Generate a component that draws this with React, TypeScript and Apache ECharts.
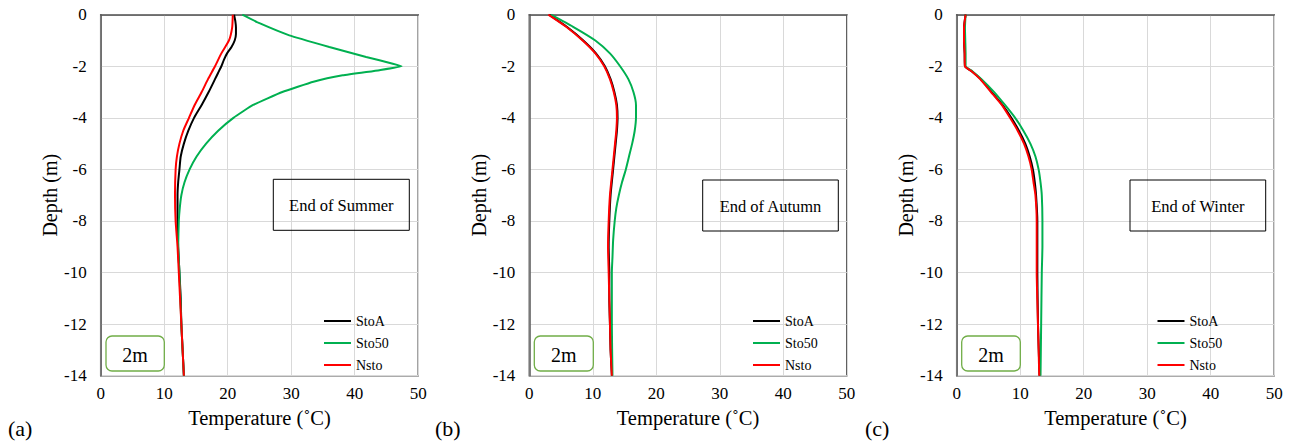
import React, { useEffect, useRef } from "react";
import * as echarts from "echarts";

// [temperature °C, depth m]
const summerStoA = [[21.0,0],[21.2,-0.25],[21.3,-0.5],[21.3,-0.75],[21.1,-1],[20.6,-1.25],[19.9,-1.5],[19.4,-1.75],[19.0,-2],[18.5,-2.25],[18.0,-2.5],[17.0,-3],[15.9,-3.5],[14.7,-4],[13.8,-4.5],[13.1,-5],[12.6,-5.5],[12.4,-6],[12.2,-6.5],[12.1,-7],[12.1,-8],[12.2,-9],[12.4,-10],[12.6,-11],[12.7,-12],[12.9,-13],[13.1,-14]];
const summerSto50 = [[22.3,0],[25.0,-0.33],[29.7,-0.8],[36.0,-1.25],[41.8,-1.64],[46.0,-1.9],[47.4,-2],[43.9,-2.15],[38.1,-2.35],[33.5,-2.6],[28.6,-3],[24.0,-3.5],[20.9,-4],[18.5,-4.5],[16.6,-5],[15.1,-5.5],[14.0,-6],[13.2,-6.5],[12.7,-7],[12.45,-7.5],[12.3,-8],[12.2,-9],[12.4,-10],[12.7,-12],[13.1,-14]];
const summerNsto = [[20.8,0],[20.7,-0.5],[20.2,-1],[19.0,-1.5],[18.0,-2],[16.9,-2.5],[15.9,-3],[14.8,-3.5],[13.9,-4],[13.0,-4.5],[12.4,-5],[12.0,-5.5],[11.8,-6],[11.7,-7],[11.8,-8],[12.1,-9],[12.3,-10],[12.5,-11],[12.7,-12],[12.9,-13],[13.1,-14]];

const autumnStoA = [[3.1,0],[5.9,-0.47],[8.5,-1],[10.5,-1.5],[11.9,-2],[12.8,-2.5],[13.4,-3],[13.8,-3.5],[13.9,-4],[13.8,-4.5],[13.6,-5],[13.2,-6],[12.8,-7],[12.6,-8],[12.5,-9],[12.6,-10],[12.6,-11],[12.7,-12],[12.8,-13],[13.0,-14]];
const autumnSto50 = [[3.4,0],[6.9,-0.47],[10.4,-1],[12.7,-1.5],[14.3,-2],[15.6,-2.5],[16.4,-3],[16.8,-3.5],[16.8,-4],[16.6,-4.5],[16.2,-5],[15.7,-5.5],[15.2,-6],[14.6,-6.5],[14.1,-7],[13.7,-7.5],[13.45,-8],[13.2,-8.75],[13.1,-9.4],[13.0,-10],[13.0,-11],[13.0,-12],[13.1,-14]];
const autumnNsto = [[3.0,0],[5.8,-0.47],[8.4,-1],[10.4,-1.5],[11.8,-2],[12.7,-2.5],[13.3,-3],[13.7,-3.5],[13.8,-4],[13.7,-4.5],[13.5,-5],[13.1,-6],[12.7,-7],[12.5,-8],[12.4,-9],[12.5,-10],[12.6,-11],[12.7,-12],[12.8,-13],[13.0,-14]];

const winterStoA = [[1.4,0],[1.15,-0.5],[1.15,-1],[1.25,-1.5],[1.3,-2],[2.4,-2.2],[3.8,-2.5],[5.5,-3],[7.2,-3.5],[8.6,-4],[9.8,-4.5],[10.8,-5],[11.5,-5.5],[12.0,-6],[12.3,-6.5],[12.5,-7],[12.7,-8],[12.7,-9],[12.7,-10],[12.8,-12],[13.05,-14]];
const winterSto50 = [[1.4,0],[1.3,-0.5],[1.35,-1],[1.4,-1.5],[1.4,-2],[2.5,-2.2],[3.9,-2.5],[5.9,-3],[7.6,-3.5],[9.2,-4],[10.5,-4.5],[11.6,-5],[12.4,-5.5],[12.9,-6],[13.2,-6.5],[13.4,-7],[13.5,-8],[13.5,-9],[13.4,-10],[13.3,-12],[13.2,-14]];
const winterNsto = [[1.4,0],[1.15,-0.5],[1.15,-1],[1.25,-1.5],[1.3,-2],[2.4,-2.2],[3.7,-2.5],[5.4,-3],[7.1,-3.5],[8.4,-4],[9.6,-4.5],[10.6,-5],[11.3,-5.5],[11.8,-6],[12.1,-6.5],[12.4,-7],[12.6,-8],[12.6,-9],[12.6,-10],[12.8,-12],[13.0,-14]];

const seriesNames = ["StoA", "Sto50", "Nsto"];
const seriesColors = ["#000000", "#00B050", "#FF0000"];
const seasonLabels = ["End of Summer", "End of Autumn", "End of Winter"];
const panelTags = ["(a)", "(b)", "(c)"];
const sizeLabel = "2m";
const xName = "Temperature (˚C)";
const yName = "Depth (m)";

const FONT = "Liberation Serif";

const layouts = [
  { left: 100.7, legendLeft: 323, season: [273.3, 179.3, 136, 51], mBox: [106, 336, 58.3, 35], tagX: 8, smooth: [0.2, 0.12, 0.2] },
  { left: 529.3, legendLeft: 752, season: [702.7, 180, 135.6, 51], mBox: [534.3, 336, 59, 35], tagX: 435, smooth: [0.2, 0.2, 0.2] },
  { left: 956.7, legendLeft: 1156.5, season: [1130, 180, 135.7, 51], mBox: [961.7, 336, 58.6, 35], tagX: 865, smooth: [0.15, 0.15, 0.15] },
];
const panelData = [
  [summerStoA, summerSto50, summerNsto],
  [autumnStoA, autumnSto50, autumnNsto],
  [winterStoA, winterSto50, winterNsto],
];

export default function App() {
  const ref = useRef<HTMLDivElement>(null);
  useEffect(() => {
    document.body.style.margin = "0";
    const chart = echarts.init(ref.current!, null, { renderer: "svg" });
    const TOP = 14.7, H = 361, W = 317.5;
    const grid = layouts.map((l) => ({
      left: l.left, top: TOP, width: W, height: H, show: true,
      borderColor: "#595959", borderWidth: 1.5, backgroundColor: "transparent",
    }));
    const xAxis = layouts.map((_, i) => ({
      gridIndex: i, type: "value", min: 0, max: 50, interval: 10,
      axisLine: { show: true, lineStyle: { color: "#595959", width: 1.5 } },
      axisTick: { show: false },
      axisLabel: { color: "#000", fontFamily: FONT, fontSize: 17, margin: 9 },
      splitLine: { show: true, lineStyle: { color: "#d9d9d9", width: 1 } },
      name: xName, nameLocation: "middle", nameGap: 32,
      nameTextStyle: { fontFamily: FONT, fontSize: 20.5, color: "#000" },
    }));
    const yAxis = layouts.map((_, i) => ({
      gridIndex: i, type: "value", min: -14, max: 0, interval: 2,
      axisLine: { show: true, lineStyle: { color: "#595959", width: 1.5 } },
      axisTick: { show: false },
      axisLabel: { color: "#000", fontFamily: FONT, fontSize: 17, margin: 14 },
      splitLine: { show: true, lineStyle: { color: "#d9d9d9", width: 1 } },
      name: yName, nameLocation: "middle", nameGap: 32, nameRotate: 90,
      nameTextStyle: { fontFamily: FONT, fontSize: 20, color: "#000" },
    }));
    const series: any[] = [];
    panelData.forEach((set, i) => {
      set.forEach((data, k) => {
        series.push({
          type: "line", name: seriesNames[k], xAxisIndex: i, yAxisIndex: i,
          data, symbol: "none", smooth: layouts[i].smooth[k],
          color: seriesColors[k],
          lineStyle: { color: seriesColors[k], width: 2 },
          itemStyle: { color: seriesColors[k] },
        });
      });
    });
    const legend = layouts.map((l) => ({
      data: seriesNames, orient: "vertical", left: l.legendLeft, top: 314,
      itemWidth: 27, itemHeight: 14, itemGap: 8, padding: 0, selectedMode: false,
      itemStyle: { opacity: 0 },
      textStyle: { fontFamily: FONT, fontSize: 14, color: "#000" },
    }));
    const graphic: any[] = [];
    layouts.forEach((l, i) => {
      const [sx, sy, sw, sh] = l.season;
      graphic.push({ type: "rect", shape: { x: sx, y: sy, width: sw, height: sh }, style: { fill: "none", stroke: "#000", lineWidth: 1 }, z: 10 });
      graphic.push({ type: "text", x: sx + sw / 2, y: sy + sh / 2 + 1, style: { text: seasonLabels[i], align: "center", verticalAlign: "middle", fontSize: 16.5, fontFamily: FONT, fill: "#000" }, z: 10 });
      const [mx, my, mw, mh] = l.mBox;
      graphic.push({ type: "rect", shape: { x: mx, y: my, width: mw, height: mh, r: 6 }, style: { fill: "none", stroke: "#70AD47", lineWidth: 1.3 }, z: 10 });
      graphic.push({ type: "text", x: mx + mw / 2, y: my + mh / 2 + 1, style: { text: sizeLabel, align: "center", verticalAlign: "middle", fontSize: 20, fontFamily: FONT, fill: "#000" }, z: 10 });
      graphic.push({ type: "text", x: l.tagX, y: 428, style: { text: panelTags[i], align: "left", verticalAlign: "middle", fontSize: 22, fontFamily: FONT, fill: "#000" }, z: 10 });
    });
    chart.setOption({
      animation: false,
      backgroundColor: "#fff",
      grid, xAxis, yAxis, series, legend, graphic,
    });
    return () => chart.dispose();
  }, []);
  return <div ref={ref} style={{ width: 1296, height: 441 }} />;
}
